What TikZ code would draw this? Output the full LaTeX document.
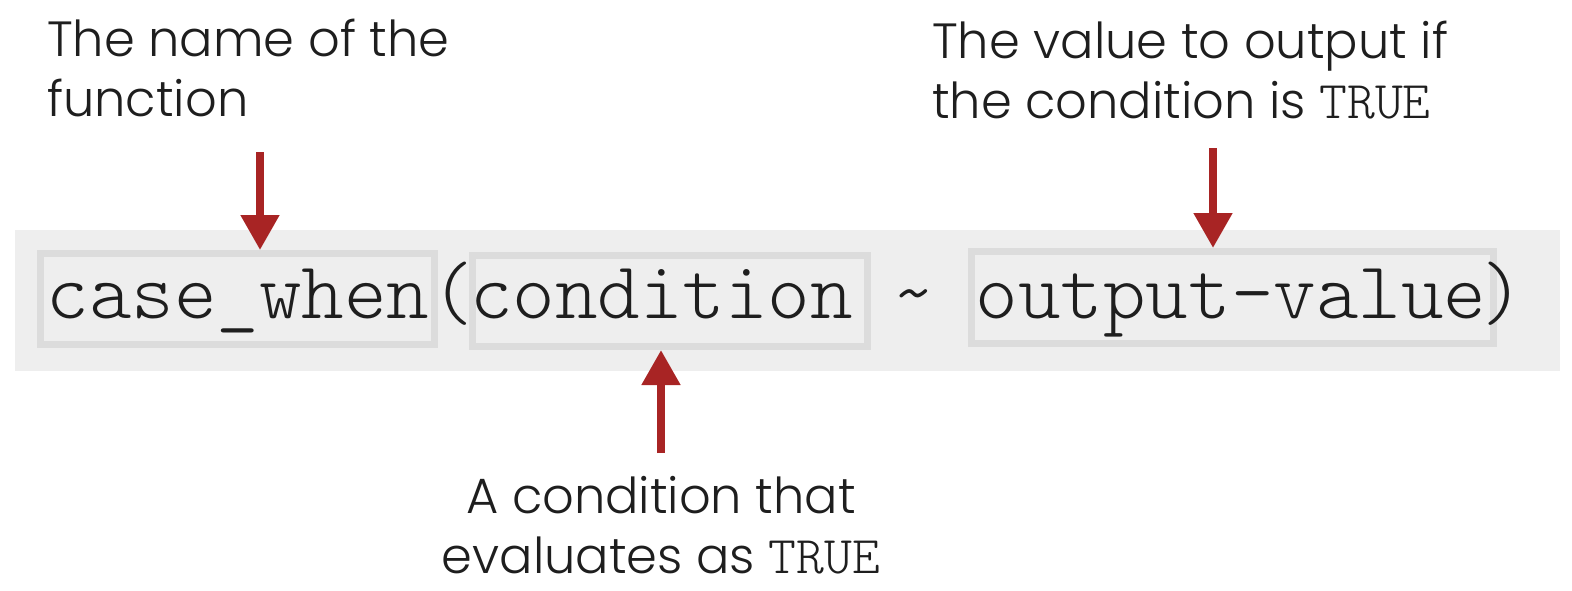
\documentclass[tikz,border=0pt]{standalone}
\usepackage{fontspec}
\setmainfont{Poppins}[UprightFont=* Light]
\setmonofont{lmmonolt10-regular.otf}
\usetikzlibrary{arrows.meta}
\definecolor{bandgray}{HTML}{EEEEEE}
\definecolor{boxgray}{HTML}{DCDCDC}
\definecolor{arrred}{HTML}{A82424}
\definecolor{ink}{HTML}{1E1E1E}
\newcommand{\tru}{{\ttfamily\fontsize{53}{61}\selectfont TRUE}}

\begin{document}
\begin{tikzpicture}[x=1pt,y=-1pt,
    lbl/.style={font=\fontsize{49.5}{60}\selectfont, text=ink, inner sep=0pt},
    code/.style={anchor=base, inner sep=0pt, text=ink, font=\ttfamily\fontsize{81}{90}\selectfont},
    codebox/.style={draw=boxgray, line width=7pt, fill=bandgray, inner sep=0pt},
    arr/.style={draw=arrred, line width=8pt, -{Triangle[width=37pt,length=35pt]}}]
  \useasboundingbox (0,0) rectangle (1572,590);
  \fill[bandgray] (15,230) rectangle (1560,371);
  \node[codebox, minimum width=394pt, minimum height=91pt] (fname) at (237.5,299) {};
  \node[codebox, minimum width=395pt, minimum height=91pt] (cond) at (670,301) {};
  \node[codebox, minimum width=522pt, minimum height=92pt] (outval) at (1232.5,297.5) {};
  \node[code] (fnametxt) at (238,318) {case\_when};
  \node[code] (lpar) at (453,318) {(};
  \node[code] (condtxt) at (661.5,318) {condition};
  \node[code] (tilde) at (914,318) {\textasciitilde};
  \node[code] (outvaltxt) at (1231,318) {output-value};
  \node[code] (rpar) at (1503,318) {)};
  \node[lbl, anchor=base west, align=left] (namelbl) at (47,116) {The name of the\\function};
  \node[lbl, anchor=base west, align=left] (vallbl) at (932,118) {The value to output if\\the condition is \tru};
  \node[lbl, anchor=base, align=center] (condlbl) at (661,573) {A condition that\\evaluates as \tru};
  \coordinate (t1) at (260,152);
  \coordinate (t2) at (661,453);
  \coordinate (t3) at (1213,148);
  \draw[arr] (t1) -- (t1 |- fname.north);
  \draw[arr] (t2) -- (t2 |- cond.south);
  \draw[arr] (t3) -- (t3 |- outval.north);
\end{tikzpicture}
\end{document}
